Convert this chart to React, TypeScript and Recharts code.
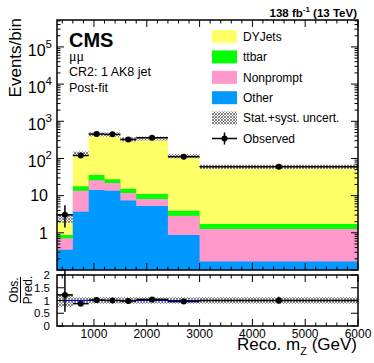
import React from 'react';
import { ComposedChart, Area, Scatter, XAxis, YAxis, ErrorBar, ReferenceLine } from 'recharts';

// ---------------- data ----------------
const binEdges = [300, 600, 900, 1200, 1500, 1800, 2400, 3000, 6000];
const other = [0.35, 3.7, 14.2, 13.6, 7.4, 5.3, 0.88, 0.17];
const nonprompt = [0.37, 9.9, 11.8, 8.4, 4.4, 2.8, 1.98, 1.09];
const ttbar = [0.16, 4.4, 10, 5.5, 3.6, 2.9, 1.04, 0.48];
const dyjets = [1.62, 119, 409, 417, 315, 336, 112, 58];
const observed = [3.05, 120, 454, 445, 324, 361, 111, 60];
const obsErrDown = [1.65, 11, 21, 21, 18, 19, 10.5, 7.7];
const obsErrUp = [2.5, 12, 22, 22, 19, 20, 11.5, 8.8];
const relUncert = [0.25, 0.13, 0.13, 0.13, 0.13, 0.13, 0.13, 0.13];

const xMajorTicks = [1000, 2000, 3000, 4000, 5000, 6000];
const xMinorTicks = [400, 600, 800, 1200, 1400, 1600, 1800, 2200, 2400, 2600, 2800, 3200, 3400, 3600, 3800, 4200, 4400, 4600, 4800, 5200, 5400, 5600, 5800];
const yMajorTicks = [0.1, 1, 10, 100, 1000, 10000, 100000];
const yTickLabels = ['', '1', '10', '10^2', '10^3', '10^4', '10^5'];
const ratioTicks = [0, 0.5, 1, 1.5, 2];
const ratioTickLabels = ['0', '0.5', '1', '1.5', '2'];

const legendNames = ['DYJets', 'ttbar', 'Nonprompt', 'Other'];
const COLORS = { dy: '#ffff66', tt: '#00ff00', np: '#ff99cc', other: '#0099ff' };
const FONT = "'Liberation Sans', Arial, Helvetica, sans-serif";

// minor log ticks (axis decoration positions)
const yMinorTicks: number[] = [];
for (let d = -1; d <= 5; d++) {
  for (let k = 2; k <= 9; k++) {
    const v = k * Math.pow(10, d);
    if (v < 5.3e5) yMinorTicks.push(Number(v.toPrecision(3)));
  }
}
const yAllTicks = [...yMajorTicks, ...yMinorTicks].sort((a, b) => a - b);
const xAllTicks = [...xMajorTicks, ...xMinorTicks].sort((a, b) => a - b);

// ---------------- derived tables ----------------
const nBins = other.length;
const totals = other.map((_, i) => other[i] + nonprompt[i] + ttbar[i] + dyjets[i]);
const edgeData = binEdges.map((x, k) => {
  const i = Math.min(k, nBins - 1);
  const cOther = other[i];
  const cNp = cOther + nonprompt[i];
  const cTt = cNp + ttbar[i];
  const cDy = cTt + dyjets[i];
  return {
    x,
    other: cOther,
    np: cNp,
    tt: cTt,
    dy: cDy,
    band: [cDy * (1 - relUncert[i]), cDy * (1 + relUncert[i])],
    rband: [1 - relUncert[i], 1 + relUncert[i]],
  };
});
const obsData = observed.map((v, i) => ({
  x: (binEdges[i] + binEdges[i + 1]) / 2,
  y: v,
  ex: (binEdges[i + 1] - binEdges[i]) / 2,
  ey: [obsErrDown[i], obsErrUp[i]],
}));
const ratioData = observed.map((v, i) => ({
  x: (binEdges[i] + binEdges[i + 1]) / 2,
  y: v / totals[i],
  ex: (binEdges[i + 1] - binEdges[i]) / 2,
  ey: [obsErrDown[i] / totals[i], obsErrUp[i] / totals[i]],
}));

// ---------------- layout ----------------
const W = 374;
const PL = 57, PR = 358;
const MAIN_TOP = 20, MAIN_BOTTOM = 270;
const RATIO_OFFSET = 263;
const R_TOP = 12, R_BOTTOM = 63; // in ratio chart coords

const makeXTick = (top: number, bottom: number, labels: boolean) => (props: any) => {
  const { x, payload } = props;
  const v = payload.value;
  const major = xMajorTicks.includes(v);
  const len = major ? 7 : 3.5;
  return (
    <g>
      <line x1={x} x2={x} y1={bottom} y2={bottom - len} stroke="#000" strokeWidth={1} />
      <line x1={x} x2={x} y1={top} y2={top + len} stroke="#000" strokeWidth={1} />
      {labels && major && (
        <text x={x} y={bottom + 12} textAnchor="middle" fontSize={12} fontFamily={FONT} fill="#000">
          {v}
        </text>
      )}
    </g>
  );
};

const MainYTick = (props: any) => {
  const { y, payload } = props;
  const v = payload.value;
  const idx = yMajorTicks.indexOf(v);
  const major = idx >= 0;
  const len = major ? 7 : 3.5;
  let label: React.ReactNode = null;
  if (major && yTickLabels[idx]) {
    const lab = yTickLabels[idx];
    if (lab.includes('^')) {
      const [base, exp] = lab.split('^');
      label = (
        <text x={52} y={y + 9} textAnchor="end" fontSize={16} fontFamily={FONT} fill="#000">
          <tspan>{base}</tspan>
          <tspan dy={-8} fontSize={11.5}>{exp}</tspan>
        </text>
      );
    } else {
      label = (
        <text x={48} y={y + 5.7} textAnchor="end" fontSize={16} fontFamily={FONT} fill="#000">
          {lab}
        </text>
      );
    }
  }
  return (
    <g>
      <line x1={PL} x2={PL + len} y1={y} y2={y} stroke="#000" strokeWidth={1} />
      <line x1={PR} x2={PR - len} y1={y} y2={y} stroke="#000" strokeWidth={1} />
      {label}
    </g>
  );
};

const RatioYTick = (props: any) => {
  const { y, payload } = props;
  const v = payload.value;
  const idx = ratioTicks.indexOf(v);
  return (
    <g>
      <line x1={PL} x2={PL + 7} y1={y} y2={y} stroke="#000" strokeWidth={1} />
      <line x1={PR} x2={PR - 7} y1={y} y2={y} stroke="#000" strokeWidth={1} />
      <text x={50} y={y + 4} textAnchor="end" fontSize={11.5} fontFamily={FONT} fill="#000">
        {ratioTickLabels[idx]}
      </text>
    </g>
  );
};

const ObsDot = (p: any) => <circle cx={p.cx} cy={p.cy} r={3} fill="#000" />;

export default function App() {
  const legendRows = [
    { name: legendNames[0], color: COLORS.dy },
    { name: legendNames[1], color: COLORS.tt },
    { name: legendNames[2], color: COLORS.np },
    { name: legendNames[3], color: COLORS.other },
  ];
  const rowY = (i: number) => 36.5 + i * 20.4;
  return (
    <div style={{ position: 'absolute', left: 0, top: 0, width: W, height: 363, background: '#fff' }}>
      <svg width={0} height={0} style={{ position: 'absolute' }}>
        <defs>
          <pattern id="hatch" patternUnits="userSpaceOnUse" width={3} height={3}>
            <rect width={3} height={3} fill="#fff" />
            <path d="M0,0 L3,3 M3,0 L0,3" stroke="#666" strokeWidth={0.8} />
          </pattern>
        </defs>
      </svg>

      <div style={{ position: 'absolute', left: 0, top: 0 }}>
        <ComposedChart width={W} height={272} data={edgeData} margin={{ top: MAIN_TOP, right: W - PR, bottom: 0, left: PL - 1 }}>
          <XAxis dataKey="x" type="number" domain={[300, 6000]} allowDataOverflow ticks={xAllTicks} interval={0}
            tick={makeXTick(MAIN_TOP, MAIN_BOTTOM, false)} tickLine={false} axisLine={false} height={2} />
          <YAxis type="number" scale="log" domain={[0.1, 5.3e5]} allowDataOverflow ticks={yAllTicks} interval={0}
            tick={MainYTick} tickLine={false} axisLine={false} width={1} />
          <Area dataKey="dy" type="stepAfter" fill={COLORS.dy} fillOpacity={1} stroke="none" isAnimationActive={false} />
          <Area dataKey="tt" type="stepAfter" fill={COLORS.tt} fillOpacity={1} stroke="none" isAnimationActive={false} />
          <Area dataKey="np" type="stepAfter" fill={COLORS.np} fillOpacity={1} stroke="none" isAnimationActive={false} />
          <Area dataKey="other" type="stepAfter" fill={COLORS.other} fillOpacity={1} stroke="none" isAnimationActive={false} />
          <Area dataKey="band" type="stepAfter" fill="url(#hatch)" fillOpacity={1} stroke="none" isAnimationActive={false} />
          <Scatter data={obsData} dataKey="y" shape={ObsDot} isAnimationActive={false}>
            <ErrorBar dataKey="ey" direction="y" width={0} stroke="#000" strokeWidth={1.5} />
            <ErrorBar dataKey="ex" direction="x" width={0} stroke="#000" strokeWidth={1.5} />
          </Scatter>
        </ComposedChart>
      </div>

      <div style={{ position: 'absolute', left: 0, top: RATIO_OFFSET }}>
        <ComposedChart width={W} height={100} data={edgeData} margin={{ top: R_TOP, right: W - PR, bottom: 0, left: PL - 1 }}>
          <XAxis dataKey="x" type="number" domain={[300, 6000]} allowDataOverflow ticks={xAllTicks} interval={0}
            tick={makeXTick(R_TOP, R_BOTTOM, true)} tickLine={false} axisLine={false} height={37} />
          <YAxis type="number" domain={[0, 2]} allowDataOverflow ticks={ratioTicks} interval={0}
            tick={RatioYTick} tickLine={false} axisLine={false} width={1} />
          <Area dataKey="rband" type="stepAfter" fill="url(#hatch)" fillOpacity={1} stroke="none" isAnimationActive={false} />
          <ReferenceLine y={1} stroke="#0000ff" strokeWidth={1} />
          <Scatter data={ratioData} dataKey="y" shape={ObsDot} isAnimationActive={false}>
            <ErrorBar dataKey="ey" direction="y" width={0} stroke="#000" strokeWidth={1.5} />
            <ErrorBar dataKey="ex" direction="x" width={0} stroke="#000" strokeWidth={1.5} />
          </Scatter>
        </ComposedChart>
      </div>

      <svg width={W} height={363} style={{ position: 'absolute', left: 0, top: 0, pointerEvents: 'none' }} fontFamily={FONT}>
        {/* frames */}
        <rect x={PL} y={MAIN_TOP} width={PR - PL} height={MAIN_BOTTOM - MAIN_TOP} fill="none" stroke="#000" strokeWidth={1.5} />
        <rect x={PL} y={RATIO_OFFSET + R_TOP} width={PR - PL} height={R_BOTTOM - R_TOP} fill="none" stroke="#000" strokeWidth={1.5} />

        {/* lumi */}
        <text x={357} y={17} textAnchor="end" fontSize={11.5} fontWeight="bold" fill="#000">
          <tspan>138 fb</tspan>
          <tspan dy={-5} fontSize={8}>-1</tspan>
          <tspan dy={5}> (13 TeV)</tspan>
        </text>

        {/* CMS labels */}
        <text x={69} y={47} fontSize={20} fontWeight="bold" fill="#000">CMS</text>
        <text x={69} y={61} fontSize={14} fontFamily="'Liberation Serif', 'DejaVu Serif', serif" fill="#000">μμ</text>
        <text x={69} y={76} fontSize={12.5} fill="#000">CR2: 1 AK8 jet</text>
        <text x={69} y={92} fontSize={12.5} fill="#000">Post-fit</text>

        {/* axis titles */}
        <text transform="translate(21,18) rotate(-90)" textAnchor="end" fontSize={17} fill="#000">Events/bin</text>
        <text x={357} y={350} textAnchor="end" fontSize={17} fill="#000">
          <tspan>Reco. m</tspan>
          <tspan dy={5} fontSize={11}>Z</tspan>
          <tspan dy={-5}> (GeV)</tspan>
        </text>
        <text transform="translate(18,290) rotate(-90)" textAnchor="middle" fontSize={12} fill="#000">Obs.</text>
        <line x1={20.5} x2={20.5} y1={277} y2={303} stroke="#000" strokeWidth={1} />
        <text transform="translate(31.5,290) rotate(-90)" textAnchor="middle" fontSize={12} fill="#000">Pred.</text>

        {/* legend */}
        {legendRows.map((r, i) => (
          <g key={r.name}>
            <rect x={212} y={rowY(i) - 6.5} width={25} height={13} fill={r.color} />
            <text x={243} y={rowY(i) + 4.3} fontSize={12} fill="#000">{r.name}</text>
          </g>
        ))}
        <rect x={212} y={rowY(4) - 6.5} width={25} height={13} fill="url(#hatch)" />
        <text x={243} y={rowY(4) + 4.3} fontSize={12} fill="#000">Stat.+syst. uncert.</text>
        <line x1={212} x2={237} y1={rowY(5)} y2={rowY(5)} stroke="#000" strokeWidth={1.5} />
        <line x1={224.5} x2={224.5} y1={rowY(5) - 6} y2={rowY(5) + 6} stroke="#000" strokeWidth={1.5} />
        <circle cx={224.5} cy={rowY(5)} r={3} fill="#000" />
        <text x={243} y={rowY(5) + 4.3} fontSize={12} fill="#000">Observed</text>
      </svg>
    </div>
  );
}
